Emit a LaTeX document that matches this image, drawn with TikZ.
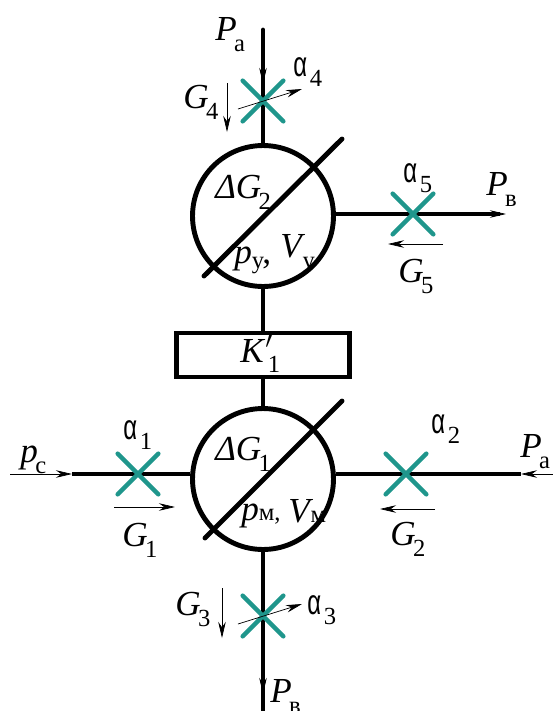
\documentclass[tikz,border=0pt]{standalone}
\usepackage{fontspec}
\setmainfont{Liberation Serif}
\newfontfamily\alffont{Liberation Sans}
\usetikzlibrary{arrows.meta,shapes.misc}
\newcommand{\subf}{\fontsize{14}{14}\selectfont}
\newcommand{\lab}[2]{\textit{#1}\kern -1.5pt\raisebox{-6.5pt}{\subf #2}}
\newcommand{\alf}[1]{\scalebox{0.68}[1]{\alffont α}\kern 1.5pt\raisebox{-6.2pt}{\subf #1}}
\definecolor{valveteal}{RGB}{31,150,140}

\begin{document}
\begin{tikzpicture}[x=0.02cm,y=-0.02cm,>={Stealth[length=3.2mm,width=1.5mm]},
  pipe/.style={line width=2.8pt},
  tank/.style={circle,draw,line width=2.8pt,minimum size=2.82cm,inner sep=0pt},
  valve/.style={cross out,draw=valveteal,line width=2.6pt,line cap=round,minimum width=0.72cm,minimum height=0.72cm,inner sep=0pt},
  flow/.style={->,line width=0.4pt},
  lab/.style={anchor=base west,inner sep=0pt,font=\fontsize{20}{20}\selectfont}]
  \useasboundingbox(0,0)rectangle(553,711);
  \fill[white](0,0)rectangle(553,711);

  \node[tank](tankup)at(263,216){};
  \node[tank](tanklow)at(263,479){};
  \node[draw,line width=2.8pt,minimum width=3.45cm,minimum height=0.88cm,inner sep=0pt](kbox)at(263,355){};

  \coordinate(topend)at(263,30);
  \coordinate(botend)at(263,711);
  \coordinate(rightup)at(500,214);
  \coordinate(leftlow)at(72,474);
  \coordinate(rightlow)at(521,474);

  \draw[pipe,line cap=round](topend)--(tankup.north);
  \draw[pipe](tankup.south)--(kbox.north);
  \draw[pipe](kbox.south)--(tanklow.north);
  \draw[pipe](tanklow.south)--(botend);
  \draw[pipe](tankup.east|-rightup)--(rightup);
  \draw[pipe](leftlow)--(tanklow.west|-leftlow);
  \draw[pipe](tanklow.east|-rightlow)--(rightlow);
  \draw[pipe,line cap=round](342,139)--(204,276);
  \draw[pipe,line cap=round](342,401)--(205,538);

  \draw[flow](topend)++(0,38)--++(0,16);
  \draw[flow](263,672)--(263,694);
  \draw[flow](rightup)--++(6,0);
  \draw[flow](10,474)--(leftlow);
  \draw[flow](553,474)--(rightlow);

  \node[valve](valve4)at(263,101){};
  \node[valve](valve5)at(413,214){};
  \node[valve](valve1)at(138,474){};
  \node[valve](valve2)at(406,474){};
  \node[valve](valve3)at(263,616){};

  \draw[flow](238,109)--(302,89);
  \draw[flow](238,624)--(302,604);
  \draw[flow](227,83)--(227,132);
  \draw[flow](222,588)--(222,638);
  \draw[flow](443,244)--(388,244);
  \draw[flow](114,507)--(175,507);
  \draw[flow](435,509)--(380,509);

  \node[lab](ptop)at(215,40){\lab{P}{а}};
  \node[lab](pright)at(486,195){\lab{P}{в}};
  \node[lab](pbot)at(270,702){\lab{P}{в}};
  \node[lab](pin)at(520,457){\lab{P}{а}};
  \node[lab](pc)at(20,462){\lab{p}{с}};
  \node[lab](g4)at(183,108){\lab{G}{4}};
  \node[lab](g5)at(398,282){\lab{G}{5}};
  \node[lab](g1)at(122,546){\lab{G}{1}};
  \node[lab](g2)at(390,545){\lab{G}{2}};
  \node[lab](g3)at(175,615){\lab{G}{3}};
  \node[lab](a4)at(293,76){\alf{4}};
  \node[lab](a5)at(403,182){\alf{5}};
  \node[lab](a1)at(123,439){\alf{1}};
  \node[lab](a2)at(431,433){\alf{2}};
  \node[lab](a3)at(307,614){\alf{3}};
  \node[lab](dg2)at(215,198){\lab{ΔG}{2}};
  \node[lab](dg1)at(215,460){\lab{ΔG}{1}};
  \node[lab](py)at(234,263){\textit{p}\raisebox{-3pt}{\subf у}\kern -1pt,};
  \node[lab](vy)at(280,257){\lab{V}{у}};
  \node[lab](pm)at(241,520){\textit{p}{\subf м,}};
  \node[lab](vm)at(288,522){\textit{V}\kern -1.5pt{\subf м}};
  \node[lab](k1)at(240,362){\textit{K}$'$\kern -3pt\raisebox{-6.2pt}{\subf 1}};
\end{tikzpicture}
\end{document}
